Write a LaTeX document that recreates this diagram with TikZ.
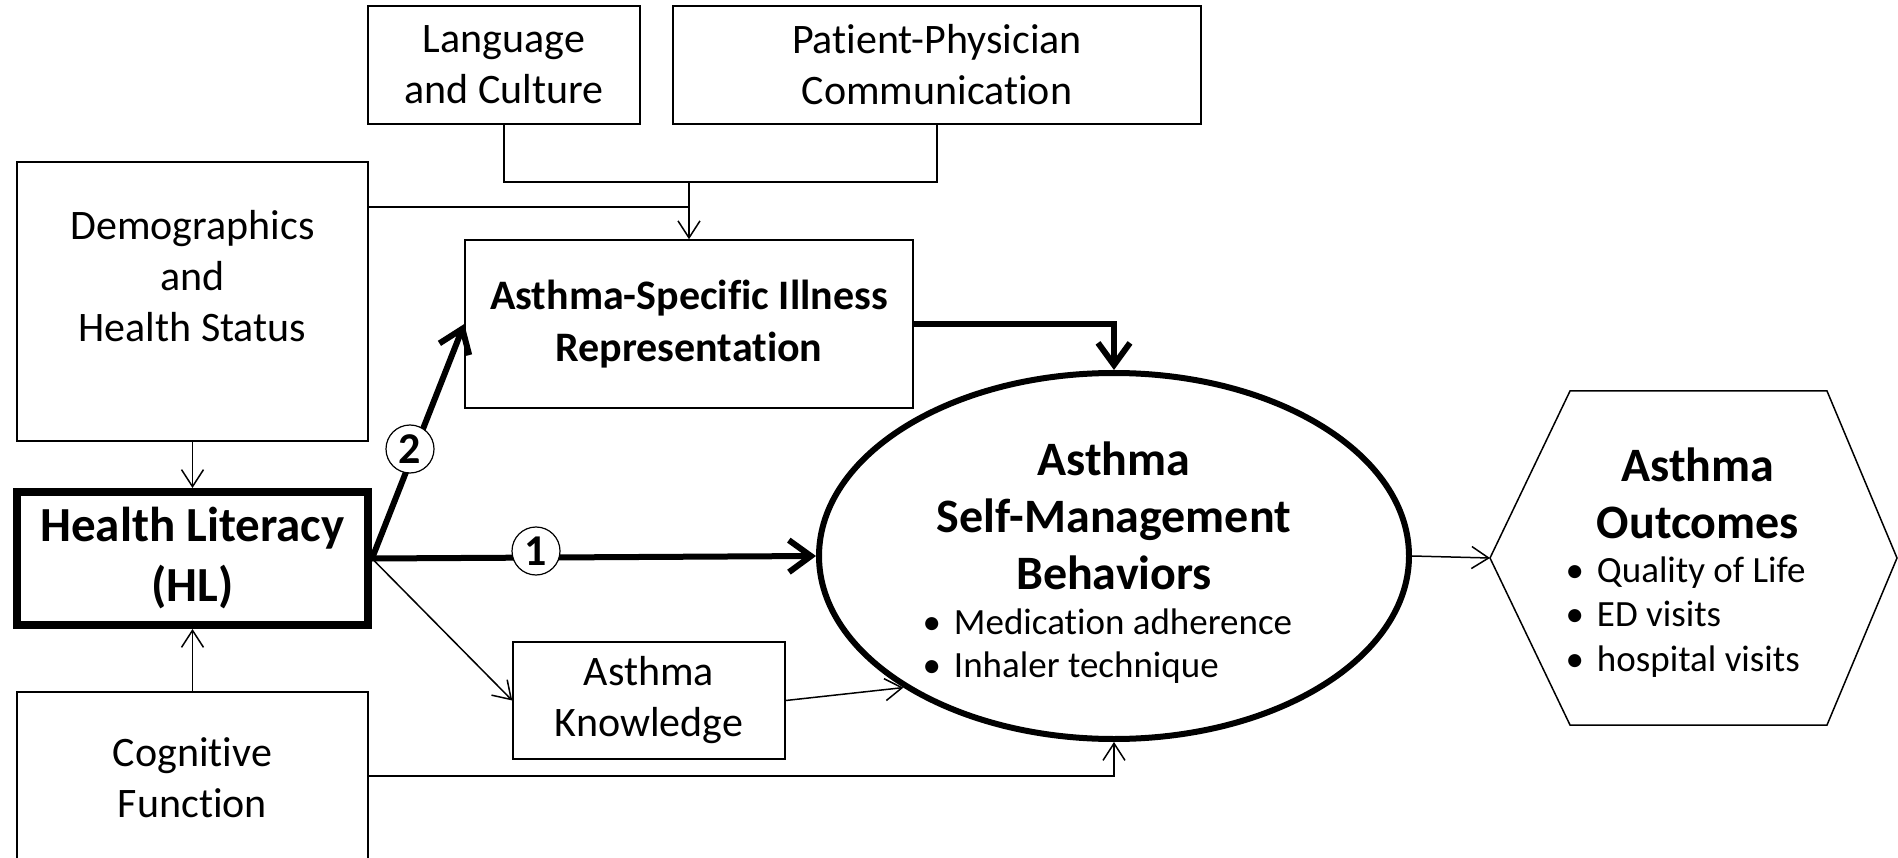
\documentclass[tikz,border=0pt]{standalone}
\usepackage{fontspec}
\setmainfont{Carlito}[RawFeature={-liga;-clig;-dlig;-calt}]
\usetikzlibrary{arrows.meta,shapes.geometric}
\begin{document}
\begin{tikzpicture}[x=1pt,y=-1pt,
  thinline/.style={line width=1.5pt},
  thinarrow/.style={thinline,-{Straight Barb[length=17pt,width=22pt]}},
  thickarrow/.style={line width=6pt,-{Straight Barb[length=22pt,width=32pt]}},
  box/.style={draw,thinline,inner sep=0pt,align=center},
  plain/.style={font=\fontsize{42}{51}\selectfont,align=center},
  boldtxt/.style={font=\fontsize{42}{52}\selectfont\bfseries},
  title/.style={font=\fontsize{48}{57}\selectfont\bfseries,align=center},
  bullets/.style={font=\fontsize{37}{43}\selectfont,align=left,anchor=west},
  numc/.style={draw,circle,line width=1.2pt,fill=white,minimum size=48pt,inner sep=0pt,
    font=\fontsize{44}{44}\selectfont\bfseries},
]
\useasboundingbox (0,0) rectangle (1898,858);

% top influences
\node[box,minimum width=272pt,minimum height=118pt,plain] (lang) at (504,65) {Language\\and Culture};
\node[box,minimum width=528pt,minimum height=118pt,plain] (pat) at (937,65) {Patient-Physician\\Communication};

% left column
\node[box,minimum width=351pt,minimum height=279pt] (demo) at (192.5,301.5) {};
\node[plain] (demotext) at (192.5,276) {Demographics\\and\\Health Status};
\node[draw,line width=8pt,inner sep=0pt,minimum width=351pt,minimum height=133pt,align=center,
  font=\fontsize{49}{60}\selectfont\bfseries] (hl) at (192.5,558.5) {Health Literacy\\(HL)};
\node[box,minimum width=351pt,minimum height=190pt] (cog) at (192.5,787) {};
\node[plain] (cogtext) at (192.5,778) {Cognitive\\Function};

% mediators
\node[box,minimum width=448pt,minimum height=168pt,boldtxt] (asir) at (689,324) {Asthma-Specific Illness\\Representation};
\node[box,minimum width=272pt,minimum height=117pt,plain] (ak) at (649,700.5) {Asthma\\Knowledge};

% self-management
\node[draw,ellipse,line width=6pt,inner sep=0pt,minimum width=590pt,minimum height=366pt] (sm) at (1114,556) {};
\node[title] (smtitle) at (1114,516) {Asthma\\Self-Management\\Behaviors};
\node[bullets] (smlist) at (919,646) {•\hspace{13pt}Medication adherence\\•\hspace{13pt}Inhaler technique};

% outcomes hexagon
\coordinate (hexW) at (1490,558);
\draw[thinline] (hexW) -- (1570,391) -- (1827,391) -- (1897,558) -- (1827,725) -- (1570,725) -- cycle;
\node[title] (outtitle) at (1698,493) {Asthma\\Outcomes};
\node[bullets,font=\fontsize{37}{44.5}\selectfont] (outlist) at (1562,617)
  {•\hspace{13pt}Quality of Life\\•\hspace{13pt}ED visits\\•\hspace{13pt}hospital visits};

% connectors
\coordinate (merge) at (689,182);
\coordinate (demoout) at (368,207);
\coordinate (cogout) at (368,776);
\draw[thinline] (lang.south) |- (merge) -| (pat.south);
\draw[thinline] (demoout) -- (demoout -| merge);
\draw[thinarrow] (merge) -- (asir.north);
\draw[thinarrow] (demo.south) -- (hl.north);
\draw[thinarrow] (cog.north) -- (hl.south);
\draw[thickarrow] (hl.east) -- (asir.west);
\draw[thickarrow] (hl.east) -- (sm.west);
\draw[thinarrow] (hl.east) -- (ak.west);
\draw[thinarrow] (ak.east) -- (sm.212);
\draw[thickarrow] (asir.east) -| (sm.north);
\draw[thinarrow] (cogout) -| (sm.south);
\draw[thinarrow] (sm.east) -- (hexW);

% path labels
\node[numc] (n1) at (536,551) {1};
\node[numc] (n2) at (410,449) {2};
\end{tikzpicture}
\end{document}
